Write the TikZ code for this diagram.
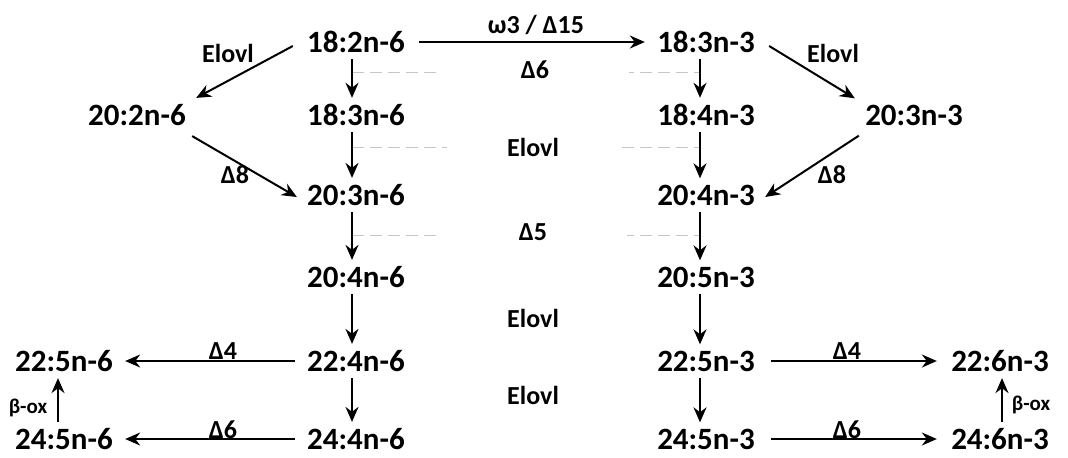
\documentclass[tikz,border=0pt]{standalone}
\usepackage{fontspec}
\setmainfont{Carlito}
\usetikzlibrary{arrows.meta}
\begin{document}
\begin{tikzpicture}[x=0.5pt,y=-0.5pt,
  fa/.style={font=\bfseries\fontsize{15.5}{18}\selectfont, inner sep=3pt},
  lab/.style={font=\bfseries\fontsize{13}{15}\selectfont, inner sep=1pt},
  smalllab/.style={font=\bfseries\fontsize{10.5}{12}\selectfont, inner sep=1pt},
  arr/.style={-{Stealth[length=7.5pt,width=6.5pt]}, line width=1pt},
  guide/.style={gray!45, line width=0.5pt, dash pattern=on 6pt off 3pt}]
\useasboundingbox (0,0) rectangle (1068,457);
% fatty acid nodes
\node[fa] (a1) at (356,42) {18:2n-6};
\node[fa] (b1) at (706,42) {18:3n-3};
\node[fa] (a0) at (137,115) {20:2n-6};
\node[fa] (a2) at (356,115) {18:3n-6};
\node[fa] (b2) at (706,115) {18:4n-3};
\node[fa] (b0) at (914,115) {20:3n-3};
\node[fa] (a3) at (356,195) {20:3n-6};
\node[fa] (b3) at (706,195) {20:4n-3};
\node[fa] (a4) at (356,277) {20:4n-6};
\node[fa] (b4) at (706,277) {20:5n-3};
\node[fa] (a5) at (356,361) {22:4n-6};
\node[fa] (b5) at (706,361) {22:5n-3};
\node[fa] (a6) at (356,439) {24:4n-6};
\node[fa] (b6) at (706,439) {24:5n-3};
\node[fa] (c5) at (64,361) {22:5n-6};
\node[fa] (c6) at (64,439) {24:5n-6};
\node[fa] (d5) at (1000,361) {22:6n-3};
\node[fa] (d6) at (1000,439) {24:6n-3};
% guide lines
\coordinate (g1l) at (352,72);  \coordinate (g1r) at (700,72);
\coordinate (g2l) at (352,147); \coordinate (g2r) at (700,147);
\coordinate (g3l) at (352,235); \coordinate (g3r) at (700,235);
\draw[guide] (g1l) -- (g1r);
\draw[guide] (g2l) -- (g2r);
\draw[guide] (g3l) -- (g3r);
% labels
\node[lab] (lw) at (536,25) {ω3 / Δ15};
\node[lab, fill=white, inner xsep=40pt] (l6) at (535,70) {Δ6};
\node[lab, fill=white, inner xsep=30pt] (le1) at (533,147) {Elovl};
\node[lab, fill=white, inner xsep=40pt] (l5) at (533,232) {Δ5};
\node[lab] (le2) at (533,318) {Elovl};
\node[lab] (le3) at (533,395) {Elovl};
\node[lab] (leL) at (228,53) {Elovl};
\node[lab] (leR) at (833,53) {Elovl};
\node[lab] (l8L) at (235,175) {Δ8};
\node[lab] (l8R) at (832,175) {Δ8};
\node[lab] (l4L) at (223,351) {Δ4};
\node[lab] (l6L) at (223,430) {Δ6};
\node[lab] (l4R) at (847,351) {Δ4};
\node[lab] (l6R) at (847,430) {Δ6};
\node[smalllab] (bL) at (28,408) {β-ox};
\node[smalllab] (bR) at (1031,405) {β-ox};
% arrows
\draw[arr, shorten <=4pt, shorten >=3pt] (a1) -- (b1);
\draw[arr] ([xshift=-2pt]a1.south) -- ([xshift=-2pt]a2.north);
\draw[arr] ([xshift=-2pt]a2.south) -- ([xshift=-2pt]a3.north);
\draw[arr] ([xshift=-2pt]a3.south) -- ([xshift=-2pt]a4.north);
\draw[arr] ([xshift=-2pt]a4.south) -- ([xshift=-2pt]a5.north);
\draw[arr] ([xshift=-2pt]a5.south) -- ([xshift=-2pt]a6.north);
\draw[arr] ([xshift=-3pt]b1.south) -- ([xshift=-3pt]b2.north);
\draw[arr] ([xshift=-3pt]b2.south) -- ([xshift=-3pt]b3.north);
\draw[arr] ([xshift=-3pt]b3.south) -- ([xshift=-3pt]b4.north);
\draw[arr] ([xshift=-3pt]b4.south) -- ([xshift=-3pt]b5.north);
\draw[arr] ([xshift=-3pt]b5.south) -- ([xshift=-3pt]b6.north);
\draw[arr] ([xshift=-4pt,yshift=-2pt]a1.west) -- ([xshift=2pt]a0.north east);
\draw[arr] ([yshift=-2pt]a0.south east) -- ([xshift=-2pt,yshift=-1pt]a3.west);
\draw[arr] ([xshift=4pt,yshift=-2pt]b1.east) -- ([xshift=-2pt]b0.north west);
\draw[arr] ([yshift=-2pt]b0.south west) -- ([xshift=2pt,yshift=-1pt]b3.east);
\draw[arr, shorten <=3pt, shorten >=3pt] (a5) -- (c5);
\draw[arr, shorten <=3pt, shorten >=3pt] (a6) -- (c6);
\draw[arr, shorten <=5pt, shorten >=4pt] (b5) -- (d5);
\draw[arr, shorten <=5pt, shorten >=4pt] (b6) -- (d6);
\draw[arr] ([xshift=-3pt]c6.north) -- ([xshift=-3pt]c5.south);
\draw[arr] ([xshift=1pt]d6.north) -- ([xshift=1pt]d5.south);
\end{tikzpicture}
\end{document}
